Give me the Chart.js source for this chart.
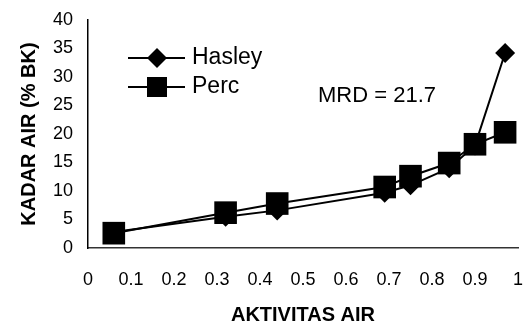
<!DOCTYPE html>
<html>
<head>
<meta charset="utf-8">
<script src="https://cdn.jsdelivr.net/npm/chart.js@4.4.1/dist/chart.umd.min.js"></script>
<style>
  html, body { margin: 0; padding: 0; background: #fff; }
  #wrap { width: 527px; height: 325px; }
</style>
</head>
<body>
<div id="wrap"><canvas id="chart"></canvas></div>
<script>
let aktivitas = [0.06, 0.32, 0.44, 0.69, 0.75, 0.84, 0.9, 0.97];
let hasley = [2.8, 5.5, 6.6, 9.7, 11.0, 14.0, 18.0, 34.2];
let perc = [2.6, 6.2, 7.8, 10.7, 12.6, 14.9, 18.2, 20.3];
let xTicks = [0, 0.1, 0.2, 0.3, 0.4, 0.5, 0.6, 0.7, 0.8, 0.9, 1];
let yTicks = [0, 5, 10, 15, 20, 25, 30, 35, 40];
let seriesNames = ["Hasley", "Perc"];
let note = "MRD = 21.7";

const toPoints = (ys) => aktivitas.map((x, i) => ({ x: x, y: ys[i] }));

// legend + MRD label drawn by hand, the reference has them inside the plot
const overlay = {
  id: "overlay",
  afterDraw: (chart) => {
    let ctx = chart.ctx;
    ctx.save();
    ctx.strokeStyle = "#000";
    ctx.fillStyle = "#000";
    ctx.lineWidth = 2;

    // Hasley row
    ctx.beginPath();
    ctx.moveTo(128, 58);
    ctx.lineTo(185, 58);
    ctx.stroke();
    ctx.beginPath();
    ctx.moveTo(157, 48);
    ctx.lineTo(167, 58);
    ctx.lineTo(157, 68);
    ctx.lineTo(147, 58);
    ctx.closePath();
    ctx.fill();

    // Perc row
    ctx.beginPath();
    ctx.moveTo(128, 87);
    ctx.lineTo(185, 87);
    ctx.stroke();
    ctx.fillRect(147, 77, 20, 20);

    ctx.font = "23px 'Liberation Sans', Arial, sans-serif";
    ctx.textBaseline = "middle";
    ctx.textAlign = "left";
    ctx.fillText(seriesNames[0], 192, 58);
    ctx.fillText(seriesNames[1], 192, 87);

    ctx.font = "22px 'Liberation Sans', Arial, sans-serif";
    ctx.textAlign = "center";
    ctx.fillText(note, 377, 96);
    ctx.restore();
  },
};

let canvas = document.getElementById("chart");
let chart = new Chart(canvas, {
  type: "scatter",
  data: {
    datasets: [
      {
        label: seriesNames[0],
        data: toPoints(hasley),
        showLine: true,
        borderColor: "#000",
        backgroundColor: "#000",
        borderWidth: 2,
        pointStyle: "rectRot",
        pointRadius: 10,
        pointBorderWidth: 0,
        order: 1,
      },
      {
        label: seriesNames[1],
        data: toPoints(perc),
        showLine: true,
        borderColor: "#000",
        backgroundColor: "#000",
        borderWidth: 2,
        pointStyle: "rect",
        pointRadius: 16,
        pointBorderWidth: 0,
        order: 0,
      },
    ],
  },
  plugins: [overlay],
  options: {
    responsive: true,
    maintainAspectRatio: false,
    animation: false,
    clip: false,
    layout: { autoPadding: false, padding: { top: 20, right: 9, bottom: 0, left: 0 } },
    plugins: {
      legend: { display: false },
      tooltip: { enabled: false },
    },
    scales: {
      x: {
        type: "linear",
        min: 0,
        max: 1,
        afterBuildTicks: (scale) => {
          scale.ticks = xTicks.map((v) => ({ value: v }));
        },
        afterFit: (scale) => {
          scale.height = 77;
          // tick padding otherwise gets added to the side padding
          scale.paddingLeft = 0;
          scale.paddingRight = 0;
        },
        grid: { display: false, drawTicks: false },
        border: { display: true, color: "#333", width: 1.5, dash: [12, 5] },
        ticks: {
          color: "#000",
          padding: 21,
          maxRotation: 0,
          autoSkip: false,
          font: { family: "'Liberation Sans', Arial, sans-serif", size: 18 },
          callback: (v) => String(Math.round(v * 10) / 10),
        },
        title: {
          display: true,
          text: "AKTIVITAS AIR",
          color: "#000",
          padding: 0,
          font: { family: "'Liberation Sans', Arial, sans-serif", size: 20, weight: "bold", lineHeight: 1 },
        },
      },
      y: {
        type: "linear",
        min: 0,
        max: 40,
        afterBuildTicks: (scale) => {
          scale.ticks = yTicks.map((v) => ({ value: v }));
        },
        afterFit: (scale) => {
          scale.width = 88;
          scale.paddingTop = 0;
          scale.paddingBottom = 0;
        },
        grid: { display: false, drawTicks: false },
        border: { display: true, color: "#000", width: 1.5 },
        ticks: {
          color: "#000",
          padding: 15,
          font: { family: "'Liberation Sans', Arial, sans-serif", size: 18 },
        },
        title: {
          display: true,
          text: "KADAR AIR (% BK)",
          color: "#000",
          padding: { top: 17, bottom: 0 },
          font: { family: "'Liberation Sans', Arial, sans-serif", size: 20, weight: "bold", lineHeight: 1.2 },
        },
      },
    },
  },
});
</script>
</body>
</html>
